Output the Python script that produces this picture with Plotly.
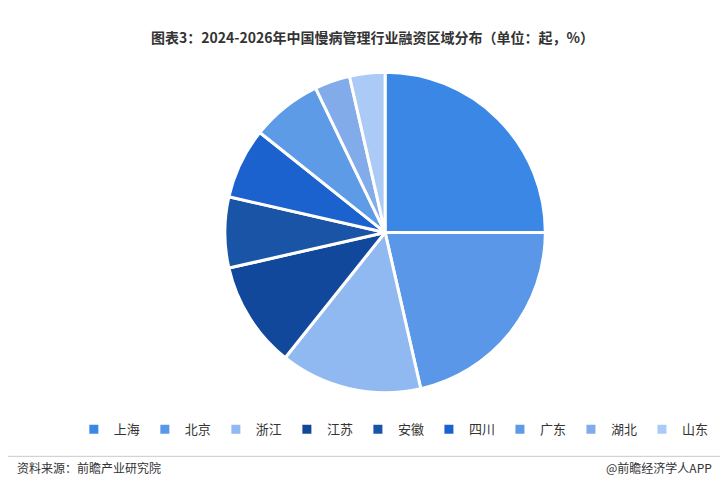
import plotly.graph_objects as go

regions = ["上海", "北京", "浙江", "江苏", "安徽", "四川", "广东", "湖北", "山东"]
counts = [7, 6, 4, 3, 2, 2, 2, 1, 1]
colors = ["#3a87e6", "#5a97e8", "#90b9f2", "#12489c", "#1a54a6", "#1b62cf",
          "#5e9be6", "#82abea", "#abcaf5"]

fig = go.Figure(go.Pie(
    labels=regions, values=counts, sort=False, direction="clockwise", rotation=0,
    marker=dict(colors=colors, line=dict(color="white", width=3)),
    textinfo="none", hoverinfo="label+value+percent",
    domain=dict(x=[0.188, 0.848], y=[0.215, 0.869]),
))

fig.update_layout(
    width=728, height=490, paper_bgcolor="white", plot_bgcolor="white",
    margin=dict(l=0, r=0, t=0, b=0),
    font=dict(family="Noto Sans CJK SC", color="#333"),
    legend=dict(orientation="h", x=0.53, xanchor="center", y=0.14, yanchor="middle",
                font=dict(size=13, color="#333"), itemwidth=30, traceorder="normal"),
    annotations=[
        dict(text="<b>图表3：2024-2026年中国慢病管理行业融资区域分布（单位：起，%）</b>",
             x=0.5, y=0.965, xref="paper", yref="paper", showarrow=False,
             font=dict(size=14, color="#333")),
        dict(text="资料来源：前瞻产业研究院", x=0.01, y=0.04, xref="paper", yref="paper",
             xanchor="left", showarrow=False, font=dict(size=12, color="#333")),
        dict(text="@前瞻经济学人APP", x=0.97, y=0.04, xref="paper", yref="paper",
             xanchor="right", showarrow=False, font=dict(size=12, color="#333")),
    ],
    shapes=[dict(type="line", xref="paper", yref="paper", x0=0, x1=1, y0=0.085, y1=0.085,
                 line=dict(color="#ccc", width=1))],
)

fig.write_html("out.html")
